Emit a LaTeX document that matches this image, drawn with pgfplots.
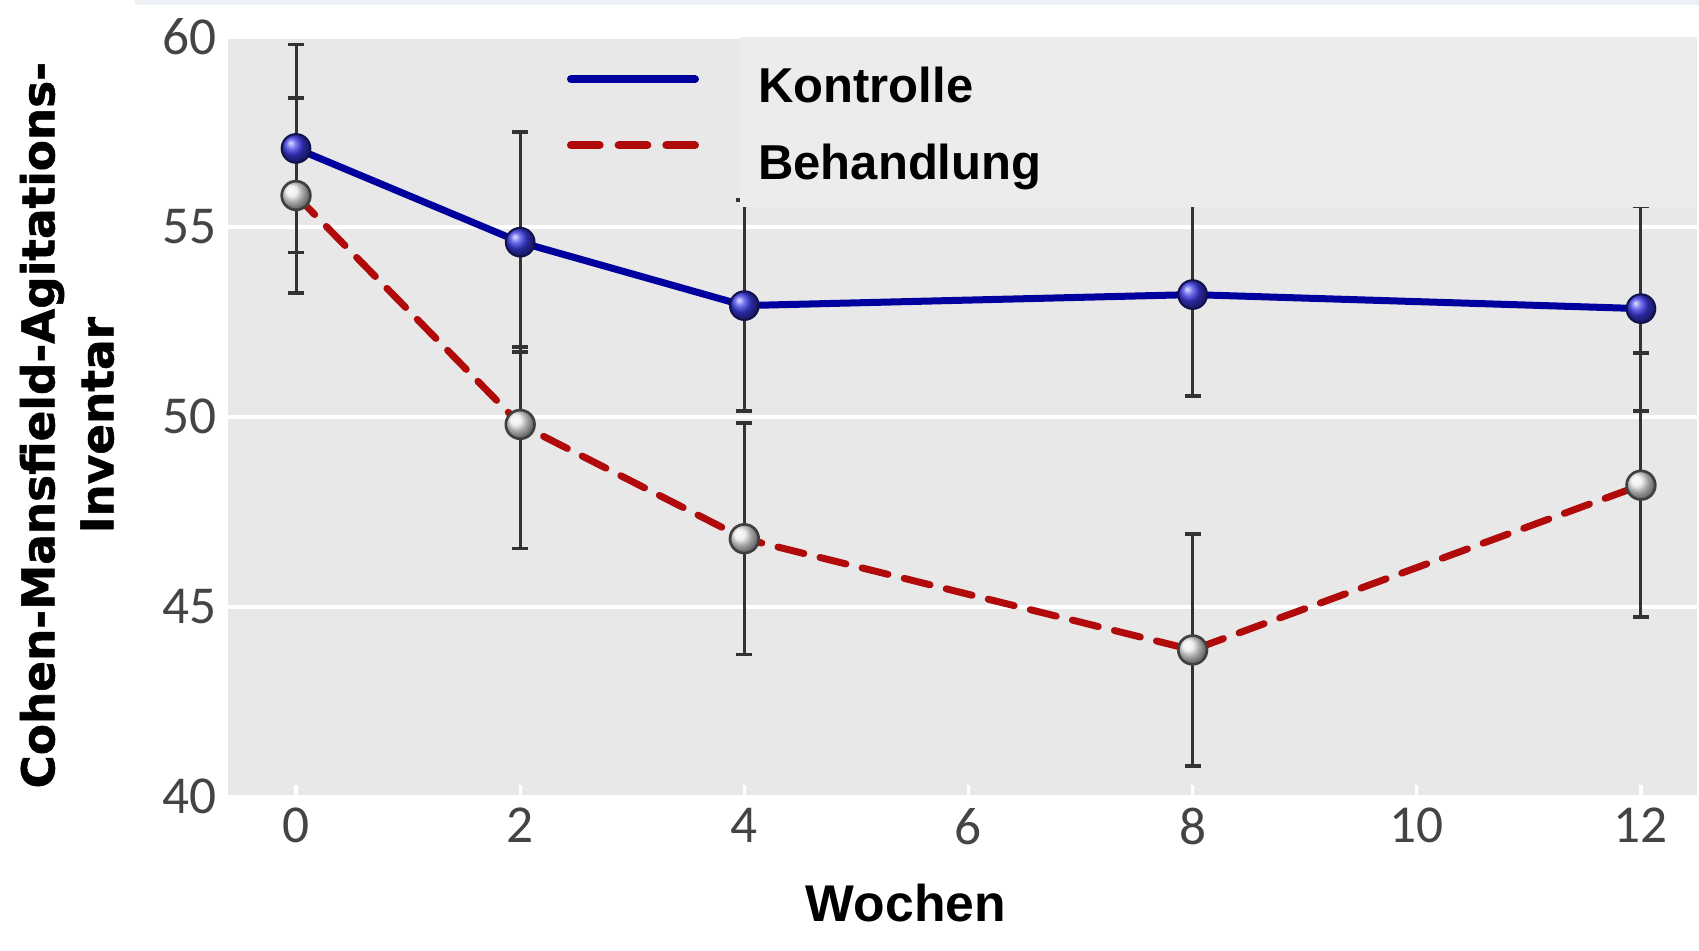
\documentclass[border=0pt]{standalone}
\usepackage{fontspec}
\setmainfont{Liberation Sans}
\newfontfamily\carlito{Carlito}
\newfontfamily\dejavu{DejaVu Sans}[BoldFeatures={FakeBold=1.2}]
\usepackage{xcolor}
\usepackage{pgfplots}
\usepackage{pgfplotstable}
\pgfplotsset{compat=1.18}

\definecolor{bggray}{HTML}{E8E8E8}
\definecolor{boxgray}{HTML}{ECECEC}
\definecolor{ebgray}{HTML}{333333}
\definecolor{lineblue}{HTML}{00009E}
\definecolor{linered}{HTML}{B00A0A}
\definecolor{markblue}{HTML}{3A3AE6}
\definecolor{markedge}{HTML}{10104A}
\definecolor{tickgray}{HTML}{444444}
\definecolor{topband}{HTML}{EDF0F5}

% week, mean, error up, error down
\pgfplotstableread{
w   y      ep    em
0   57.07  2.74  2.74
2   54.60  2.90  2.90
4   52.93  2.78  2.78
8   53.22  2.67  2.67
12  52.85  2.70  2.70
}\kontrolle
\pgfplotstableread{
w   y      ep    em
0   55.83  2.57  2.57
2   49.80  2.04  3.27
4   46.79  3.05  3.05
8   43.86  3.06  3.06
12  48.20  3.48  3.48
}\behandlung

\begin{document}
\begin{tikzpicture}
\begin{axis}[
  at={(68.4pt,46.05pt)}, anchor=south west,
  scale only axis, width=440.7pt, height=227.8pt,
  xmin=-0.607, xmax=12.5, ymin=40, ymax=60,
  xtick={0,2,...,12}, ytick={40,45,...,60},
  ymajorgrids, grid style={white, line width=1.2pt},
  axis background/.style={fill=bggray},
  axis line style={draw=none},
  tick align=inside, xtick pos=left, major tick length=3.5pt,
  xtick style={white, line width=1pt}, ytick style={draw=none},
  ticklabel style={font=\carlito\fontsize{16}{16}\selectfont, text=tickgray},
  /pgf/number format/assume math mode=true,
  xlabel={Wochen},
  xlabel style={at={(axis description cs:0.4615,-0.1397)}, anchor=center,
    font=\bfseries\fontsize{15.5}{15.5}\selectfont},
  ylabel={Cohen-Mansfield-Agitations-\\Inventar},
  ylabel style={at={(axis description cs:-0.1096,0.489)}, anchor=center, align=center,
    font=\dejavu\bfseries\fontsize{13.6}{17.7}\selectfont},
  legend style={at={(rel axis cs:0.2303,0.883)}, anchor=west, draw=none, fill=none,
    inner sep=0pt, row sep=7pt, font=\bfseries\fontsize{14.7}{14.7}\selectfont,
    /tikz/every odd column/.append style={column sep=15.8pt}},
  legend cell align=left,
  legend image code/.code={\draw[#1, line width=2.4pt] (1.2pt,0pt) -- (38.4pt,0pt);},
]
% error bars underneath
\addplot[draw=none, mark=none, forget plot,
  error bars/.cd, y dir=both, y explicit,
  error bar style={draw=ebgray, line width=0.9pt, solid},
  error mark options={rotate=90, draw=ebgray, mark size=2.4pt, line width=1.1pt}]
  table[x=w, y=y, y error plus=ep, y error minus=em] {\kontrolle};
\addplot[draw=none, mark=none, forget plot,
  error bars/.cd, y dir=both, y explicit,
  error bar style={draw=ebgray, line width=0.9pt, solid},
  error mark options={rotate=90, draw=ebgray, mark size=2.4pt, line width=1.1pt}]
  table[x=w, y=y, y error plus=ep, y error minus=em] {\behandlung};

\addplot[color=lineblue, line width=2.1pt, mark=ball, mark size=4.3pt,
  mark options={ball color=markblue, draw=markedge, line width=0.6pt},
  legend image post style={yshift=2.5pt, line cap=round}] table[x=w, y=y] {\kontrolle};
\addlegendentry{Kontrolle}
\addplot[color=linered, line width=2.1pt, dash pattern=on 8pt off 5pt, line cap=round,
  mark=ball, mark size=4.3pt,
  mark options={solid, ball color=white!92!black, draw=black!75, line width=0.8pt},
  legend image post style={yshift=5.8pt, dash pattern=on 8.6pt off 5.7pt}]
  table[x=w, y=y] {\behandlung};
\addlegendentry{Behandlung}

% the panel behind the legend text
\fill[boxgray] (rel axis cs:0.3485,0.776) rectangle (rel axis cs:1.01,1.01);
\end{axis}
\fill[topband] (40.5pt,283.4pt) rectangle (509.7pt,285pt);
\pgfresetboundingbox
\useasboundingbox (0,0) rectangle (509.7pt,285pt);
\end{tikzpicture}
\end{document}
